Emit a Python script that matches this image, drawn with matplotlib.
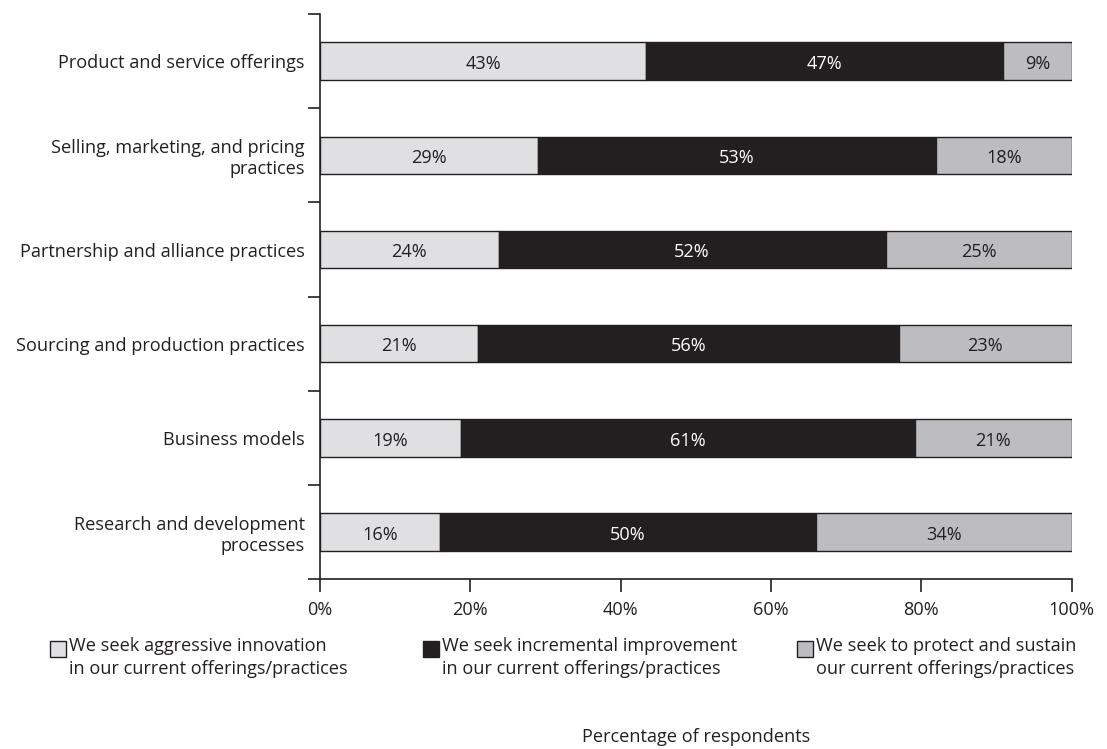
import numpy as np
import matplotlib
matplotlib.use("Agg")
import matplotlib.pyplot as plt
from matplotlib.patches import Rectangle

# Datos (porcentaje de encuestados)
categorias = [
    "Product and service offerings",
    "Selling, marketing, and pricing\npractices",
    "Partnership and alliance practices",
    "Sourcing and production practices",
    "Business models",
    "Research and development\nprocesses",
]
agresiva = [43, 29, 24, 21, 19, 16]
incremental = [47, 53, 52, 56, 61, 50]
proteger = [9, 18, 25, 23, 21, 34]

series_nombres = [
    "We seek aggressive innovation\nin our current offerings/practices",
    "We seek incremental improvement\nin our current offerings/practices",
    "We seek to protect and sustain\nour current offerings/practices",
]
colores = ["#e0e0e2", "#231f20", "#bdbdc1"]
colores_texto = ["#231f20", "white", "#231f20"]

plt.rcParams['font.family'] = ['Open Sans', 'DejaVu Sans']
fs = 13.1

fig = plt.figure(figsize=(11.07, 7.49), dpi=100)
ax = fig.add_axes([0.289, 0.227, 0.679, 0.754])

datos = np.array([agresiva, incremental, proteger], dtype=float)
totales = datos.sum(axis=0)
normal = datos / totales * 100

y = np.arange(len(categorias))
izquierda = np.zeros(len(categorias))
for i in range(3):
    ax.barh(y, normal[i], left=izquierda, height=0.4, color=colores[i],
            edgecolor="#231f20", linewidth=1.0)
    for j in range(len(categorias)):
        ax.text(izquierda[j] + normal[i][j] / 2, y[j] + 0.03, f"{int(datos[i][j])}%",
                ha="center", va="center", color=colores_texto[i], fontsize=fs)
    izquierda += normal[i]

ax.set_ylim(len(categorias) - 0.5, -0.5)
ax.set_xlim(0, 100)
ax.set_yticks(y)
ax.set_yticklabels(categorias, fontsize=fs, color="#231f20")
ax.tick_params(axis="y", which="major", length=0, pad=11)
ax.set_yticks(np.arange(-0.5, len(categorias), 1), minor=True)
ax.tick_params(axis="y", which="minor", length=9, width=1.2, color="#231f20")
ax.set_xticks([0, 20, 40, 60, 80, 100])
ax.set_xticklabels(["0%", "20%", "40%", "60%", "80%", "100%"], fontsize=fs, color="#231f20")
ax.tick_params(axis="x", length=9, width=1.2, color="#231f20", pad=7)
for lado in ["top", "right"]:
    ax.spines[lado].set_visible(False)
for lado in ["left", "bottom"]:
    ax.spines[lado].set_linewidth(1.2)
    ax.spines[lado].set_color("#231f20")

# Leyenda manual
pos_x = [50, 423, 797]
for i in range(3):
    x0 = pos_x[i] / 1107
    fig.add_artist(Rectangle((x0, 1 - 657 / 749), 16 / 1107, 16 / 749,
                             transform=fig.transFigure, facecolor=colores[i],
                             edgecolor="#231f20", linewidth=1.0))
    fig.text(x0 + 19 / 1107, 1 - 637 / 749, series_nombres[i], ha="left", va="top",
             fontsize=fs, color="#231f20", linespacing=1.35)

fig.text(696 / 1107, 1 - 737 / 749, "Percentage of respondents", ha="center",
         va="center", fontsize=fs, color="#231f20")

fig.savefig("out.png", dpi=100)
